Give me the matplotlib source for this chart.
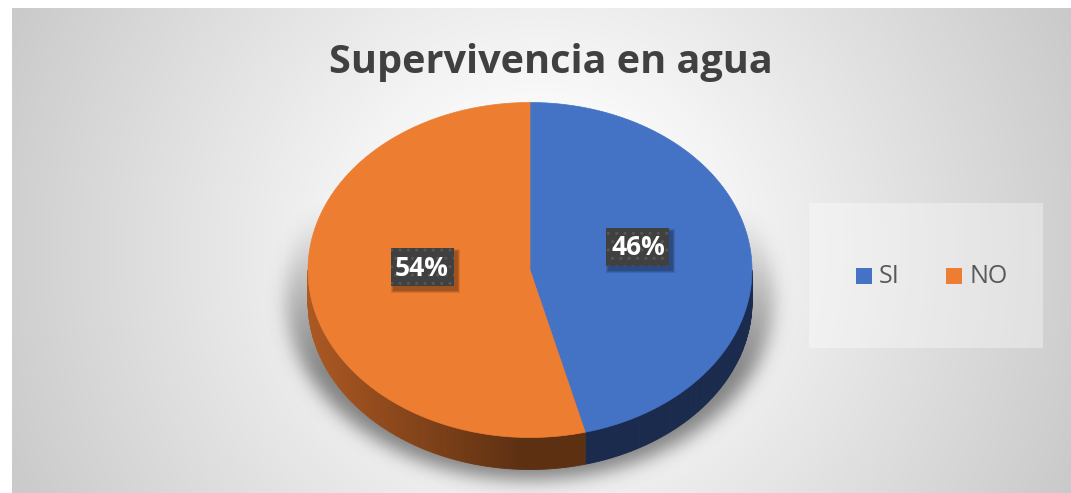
import numpy as np
import matplotlib
matplotlib.use("Agg")
import matplotlib.pyplot as plt
from matplotlib.patches import Polygon, Rectangle

# data
categories = ["SI", "NO"]
values = [46, 54]
colors_top = ["#4472c4", "#ed7d31"]
title = "Supervivencia en agua"

W, H = 1071, 493
fig = plt.figure(figsize=(W / 100, H / 100), dpi=100)
ax = fig.add_axes([0, 0, 1, 1])
ax.set_xlim(0, W)
ax.set_ylim(H, 0)
ax.axis("off")


def blur(img, sigma):
    r = int(3 * sigma)
    k = np.exp(-0.5 * (np.arange(-r, r + 1) / sigma) ** 2)
    k /= k.sum()
    img = np.apply_along_axis(lambda m: np.convolve(m, k, mode="same"), 0, img)
    img = np.apply_along_axis(lambda m: np.convolve(m, k, mode="same"), 1, img)
    return img


# chart area background (radial gradient)
x0, y0 = 12, 8
yy, xx = np.mgrid[y0:H, x0:W] + 0.5
d = np.hypot(xx - 540, yy - 250) / 560
g = 250 - (250 - 198) * np.clip((d - 0.25) / 0.85, 0, 1)
bg = np.dstack([g, g, g]) / 255
ax.imshow(bg, extent=(x0, W, H, y0), aspect="auto", zorder=0)

# pie geometry
cx, cy, rx, ry, depth = 530, 270, 222, 167.5, 32


def pt(t, f=1.0, dy=0.0):
    return cx + rx * f * np.sin(t), cy - ry * f * np.cos(t) + dy


# soft shadow under the pie
sy, sx = np.mgrid[0:H, 0:W] + 0.5
mask = (((sx - cx) / 244) ** 2 + ((sy - 298) / 182) ** 2) <= 1
ramp = np.clip((sy - 210) / 160, 0, 1)
sh = blur(mask * ramp, 9)
shadow = np.zeros((H, W, 4))
shadow[..., :3] = 0.33
shadow[..., 3] = 0.7 * sh
ax.imshow(shadow, extent=(0, W, H, 0), aspect="auto", zorder=1)

fr = np.array(values) / sum(values)
edges = np.concatenate([[0], np.cumsum(fr)]) * 2 * np.pi

# side walls (front half only)
side_blue = np.array([27, 43, 78]) / 255
org_light = np.array([172, 88, 34]) / 255
org_dark = np.array([93, 48, 18]) / 255
for i in range(len(values)):
    a, b = max(edges[i], np.pi / 2), min(edges[i + 1], 1.5 * np.pi)
    if b <= a:
        continue
    ts = np.linspace(a, b, 120)
    for t0, t1 in zip(ts[:-1], ts[1:]):
        quad = [pt(t0), pt(t1), pt(t1, dy=depth), pt(t0, dy=depth)]
        if i == 0:
            c = side_blue
        else:
            xm = pt((t0 + t1) / 2)[0]
            w = np.clip((xm - 310) / 210, 0, 1)
            c = org_light * (1 - w) + org_dark * w
        ax.add_patch(Polygon(quad, closed=True, facecolor=c, edgecolor=c,
                             linewidth=0.6, zorder=2))

# top faces
for i in range(len(values)):
    ts = np.linspace(edges[i], edges[i + 1], 200)
    poly = [(cx, cy)] + [pt(t) for t in ts]
    ax.add_patch(Polygon(poly, closed=True, facecolor=colors_top[i],
                         edgecolor=colors_top[i], linewidth=0.5, zorder=3))

# data labels
for i in range(len(values)):
    tm = (edges[i] + edges[i + 1]) / 2
    lx, ly = pt(tm, f=0.49)
    ly -= 13
    bw, bh = 63, 38
    for k, al in enumerate([0.10, 0.12, 0.15]):
        e = 3 - k
        ax.add_patch(Rectangle((lx - bw / 2 + 3 - e, ly - bh / 2 + 4 - e), bw + 2 * e, bh + 2 * e,
                               facecolor="black", alpha=al, linewidth=0, zorder=4))
    ax.add_patch(Rectangle((lx - bw / 2, ly - bh / 2), bw, bh, facecolor="#404040",
                           edgecolor="#565656", hatch="..", linewidth=0, zorder=5))
    ax.text(lx, ly + 1, f"{values[i]}%", color="white", fontsize=19, fontweight="bold",
            family="Open Sans", ha="center", va="center", zorder=6)

# title
ax.text(551, 73, title, color="#404040", fontsize=28.5, fontweight="bold",
        family="Open Sans", ha="center", va="baseline", zorder=6)

# legend
ax.add_patch(Rectangle((809, 203), 234, 145, facecolor="white", alpha=0.35,
                       linewidth=0, zorder=4))
leg_x = [856, 946]
for i, name in enumerate(categories):
    ax.add_patch(Rectangle((leg_x[i], 268), 16, 16, facecolor=colors_top[i],
                           linewidth=0, zorder=5))
    ax.text(leg_x[i] + 23, 276.5, name, color="#595959", fontsize=18,
            family="Open Sans", ha="left", va="center", zorder=6)

fig.savefig("out.png", dpi=100, facecolor="white")
